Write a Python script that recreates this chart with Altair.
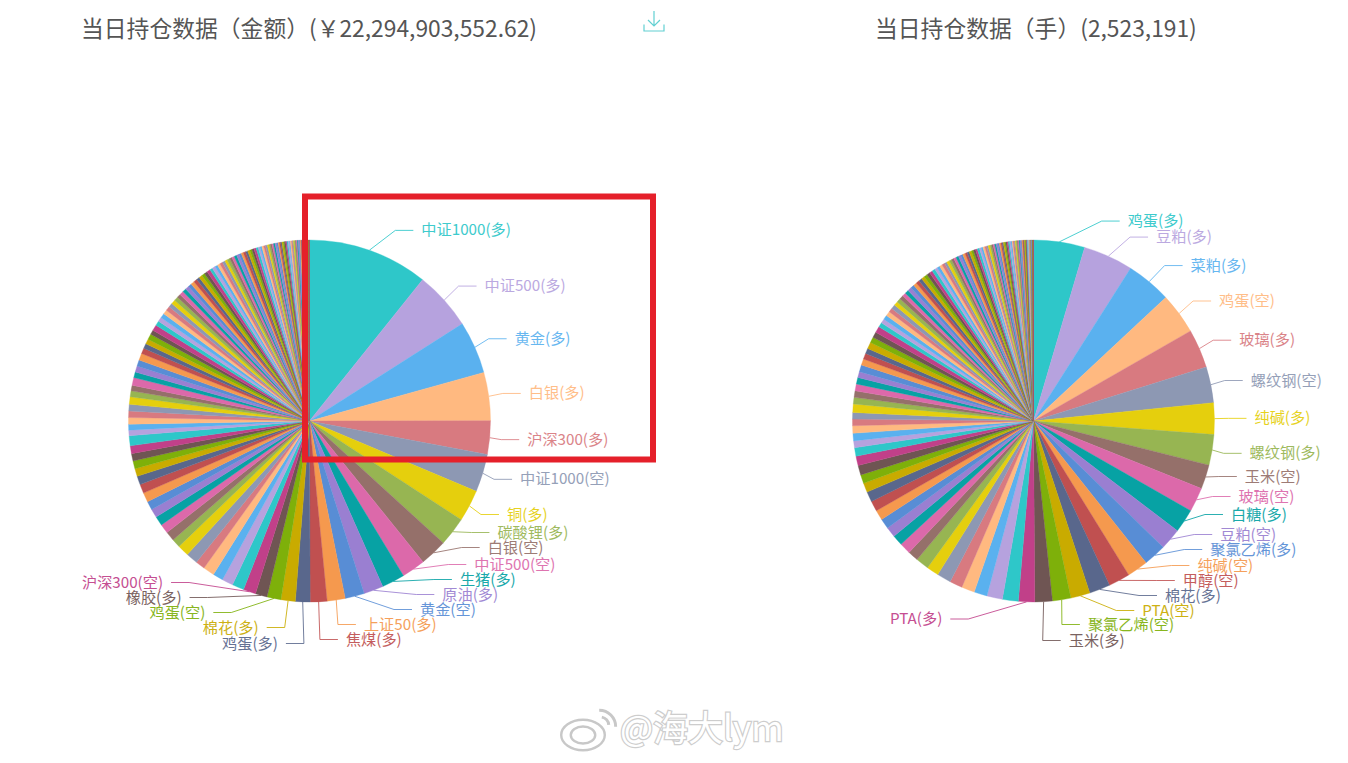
import math
import altair as alt
import pandas as pd

W, H = 1332, 747
CJK = "Noto Sans CJK SC"
PALETTE = ['#2ec7c9','#b6a2de','#5ab1ef','#ffb980','#d87a80','#8d98b3','#e5cf0d','#97b552','#95706a','#dc69aa',
           '#07a2a4','#9a7fd1','#588dd5','#f5994e','#c05050','#59678c','#c9ab00','#7eb00a','#6f5553','#c14089']

names_amount = ["中证1000(多)","中证500(多)","黄金(多)","白银(多)","沪深300(多)","中证1000(空)","铜(多)","碳酸锂(多)",
                "白银(空)","中证500(空)","生猪(多)","原油(多)","黄金(空)","上证50(多)","焦煤(多)","鸡蛋(多)",
                "棉花(多)","鸡蛋(空)","橡胶(多)","沪深300(空)"]
names_lots = ["鸡蛋(多)","豆粕(多)","菜粕(多)","鸡蛋(空)","玻璃(多)","螺纹钢(空)","纯碱(多)","螺纹钢(多)","玉米(空)",
              "玻璃(空)","白糖(多)","豆粕(空)","聚氯乙烯(多)","纯碱(空)","甲醇(空)","棉花(多)","PTA(空)",
              "聚氯乙烯(空)","玉米(多)","PTA(多)"]

# slice sizes (share of the circle, in degrees)
values_amount = [38.7,18.9,16.9,15.5,10.8,12.2,10.2,9.3,8.8,7.6,7.4,6.3,6.2,5.8,5.4,4.7,4.6,4.5,3.8,4.0,
                 3.8,3.6,3.3,3.6,3.0,3.8,3.7,2.8,3.0,3.0,3.0,2.8,2.8,3.0,2.9,2.8,2.5,2.5,2.4,2.5,
                 3.2,1.8,1.9,2.1,2.1,2.1,2.4,1.9,1.8,2.5,1.8,2.0,2.0,2.2,1.8,1.6,1.6,1.8,1.4,1.9,
                 1.5,1.4,1.5,1.4,1.4,1.3,1.4,1.3,1.2,1.3,1.2,1.2,1.1,1.2,1.1,1.0,1.1,1.0,1.0,1.1,
                 0.9,1.0,0.9,0.9,0.9,0.9,0.8,0.9,0.8,0.8,0.8,0.8,0.8,0.7,0.8,0.7,0.7,0.7,0.7,0.7,
                 0.7,0.6,0.6,0.6,0.6,0.6,0.5,0.5,0.5,0.5,0.5,0.5,0.5,0.4,0.4,0.4,0.4,0.4,0.4,0.4,
                 0.4,0.4,0.3,0.4,0.3,0.3,0.3,0.3,0.3,0.3,0.3,0.3,0.3,0.3,0.2,0.3,0.2,0.2,0.2,0.2,
                 0.1,0.1,0.1,0.1,0.1,0.1,0.1,0.1,0.05,0.05,0.05,0.05,0.05,0.05,0.05,0.05,0.05,0.05,0.05,0.05]
values_lots = [16.4,16.0,14.5,13.2,12.5,11.5,10.1,9.8,7.8,7.8,7.6,6.9,7.3,6.7,6.9,6.7,6.2,5.9,5.6,5.2,
               5.1,5.0,4.2,4.2,4.1,4.5,3.9,4.2,3.4,3.6,3.4,3.3,3.3,3.2,3.3,3.3,3.0,2.8,3.1,3.0,
               2.7,2.2,2.4,2.4,2.1,2.1,2.7,2.1,2.1,2.2,2.1,1.9,2.2,2.0,1.9,1.7,2.1,1.8,1.8,2.0,
               1.5,1.4,1.4,1.5,1.3,1.4,1.3,1.3,1.3,1.2,1.2,1.2,1.2,1.1,1.1,1.1,1.0,1.1,1.0,1.0,
               1.0,0.9,0.9,0.9,0.9,0.8,0.9,0.8,0.8,0.8,0.8,0.8,0.7,0.8,0.7,0.7,0.7,0.7,0.7,0.6,
               0.7,0.6,0.6,0.6,0.6,0.5,0.6,0.5,0.5,0.5,0.5,0.5,0.5,0.5,0.4,0.4,0.4,0.4,0.4,0.4,
               0.4,0.4,0.4,0.3,0.4,0.3,0.3,0.3,0.3,0.3,0.3,0.3,0.3,0.3,0.3,0.2,0.3,0.2,0.2,0.2,
               0.2,0.2,0.1,0.2,0.1,0.1,0.1,0.1,0.1,0.1,0.1,0.1,0.1,0.1,0.05,0.05,0.05,0.05,0.05,0.05]

titles = ["当日持仓数据（金额）(￥22,294,903,552.62)", "当日持仓数据（手）(2,523,191)"]
R = 181
CY = 413
CX_AMOUNT, CX_LOTS = 301.5, 1025.5


def layout(values, names, cx, right_gaps, right_bound, left_gaps, left_bound):
    """Leader-line layout: radial position, pushed into a stack at the bottom of each side."""
    total = sum(values)
    mids, acc = [], 0.0
    for v in values[:len(names)]:
        mids.append((acc + v / 2) / total * 2 * math.pi)
        acc += v
    right = [k for k, m in enumerate(mids) if m < math.pi]
    left = [k for k, m in enumerate(mids) if m >= math.pi]
    ys = {k: CY - (R + 21) * math.cos(mids[k]) for k in range(len(names))}
    for side, gaps, bound in ((right, right_gaps, right_bound), (left, left_gaps, left_bound)):
        stack = sorted(side, key=lambda k: abs(mids[k] - math.pi))
        y = bound
        for n, k in enumerate(stack):
            if n == 0:
                ys[k] = y
            elif n <= len(gaps):
                y -= gaps[n - 1]
                ys[k] = y
    lines, labels = [], []
    for k, name in enumerate(names):
        d = 1 if mids[k] < math.pi else -1
        dy = abs(ys[k] - CY)
        rad = 221 if ys[k] < CY else (218.5 if d > 0 else 218)
        if dy > 200:
            tx = 55 - 1.2 * (dy - 203)
        else:
            tx = math.sqrt(max(rad * rad - dy * dy, 0))
        text_x = cx + d * tx
        end_x = text_x - d * 8
        elbow_x = end_x - d * 18
        rim = (cx + R * math.sin(mids[k]), CY - R * math.cos(mids[k]))
        for o, (px, py) in enumerate((rim, (elbow_x, ys[k]), (end_x, ys[k]))):
            lines.append({"i": k + 1, "o": o, "x": px, "y": py, "pie": cx})
        labels.append({"i": k + 1, "x": text_x, "y": ys[k], "name": name, "side": "left" if d > 0 else "right"})
    return lines, labels


la1, lb1 = layout(values_amount, names_amount, CX_AMOUNT, [15, 15, 15, 15, 15, 17, 15, 18], 631.5, [16, 15, 15, 15], 635.5)
la2, lb2 = layout(values_lots, names_lots, CX_LOTS, [16, 14, 15, 15, 15, 16, 15, 20, 18, 20], 632.5, [], 611)

X = alt.X("x:Q", scale=alt.Scale(domain=[0, W], nice=False, zero=False), axis=None)
Y = alt.Y("y:Q", scale=alt.Scale(domain=[H, 0], nice=False, zero=False), axis=None)
COLOR = alt.Color("i:O", scale=alt.Scale(range=PALETTE), legend=None)
STROKE = alt.Stroke("i:O", scale=alt.Scale(range=PALETTE), legend=None)


def pie(values, cx):
    df = pd.DataFrame({"i": range(1, len(values) + 1), "v": values})
    return alt.Chart(df).mark_arc(outerRadius=R, strokeWidth=0.35).encode(
        theta=alt.Theta("v:Q", stack=True),
        color=COLOR,
        stroke=STROKE,
        order=alt.Order("i:Q"),
        x=alt.value(cx),
        y=alt.value(CY),
    )


line_df = pd.DataFrame(la1 + la2)
leader = alt.Chart(line_df).mark_line(strokeWidth=1, opacity=0.85, interpolate="linear").encode(
    x=X, y=Y, color=COLOR, detail="pie:N", order="o:Q")

label_layers = []
for side in ("left", "right"):
    d = pd.DataFrame([r for r in lb1 + lb2 if r["side"] == side])
    label_layers.append(alt.Chart(d).mark_text(align=side, baseline="middle", font=CJK, fontSize=15.2, opacity=0.92).encode(
        x=X, y=Y, text="name:N", color=COLOR))

title_df = pd.DataFrame({"x": [73, 867], "y": [21.5, 21.5], "t": titles})
title_layer = alt.Chart(title_df).mark_text(align="left", baseline="middle", font=CJK, fontSize=22.8, color="#555555").encode(
    x=X, y=Y, text="t:N")

box_df = pd.DataFrame({"x": [297], "x2": [645], "y": [188.5], "y2": [451.5]})
box = alt.Chart(box_df).mark_rect(fillOpacity=0, stroke="#e5202a", strokeWidth=6).encode(
    x=X, x2="x2:Q", y=Y, y2="y2:Q")

icon_df = pd.DataFrame({"x": [646], "y": [13]})
icon = alt.Chart(icon_df).mark_point(
    shape="M0,-1 L0,0.45 M-0.6,-0.1 L0,0.5 L0.6,-0.1 M-1,0.35 L-1,1 L1,1 L1,0.35",
    size=400, filled=False, stroke="#62d0d2", strokeWidth=1.2, opacity=1).encode(x=X, y=Y)

# watermark
wm_text = pd.DataFrame({"x": [612], "y": [722], "t": ["@海大lym"]})
wm_halo = alt.Chart(wm_text).mark_text(align="left", baseline="middle", font=CJK, fontSize=35, fill="#ffffff",
                                       stroke="#c8c8c8", strokeWidth=2.4, opacity=0.9).encode(x=X, y=Y, text="t:N")
wm_top = alt.Chart(wm_text).mark_text(align="left", baseline="middle", font=CJK, fontSize=35, fill="#ffffff").encode(x=X, y=Y, text="t:N")
wm_pt = pd.DataFrame({"x": [575], "y": [727]})
wm_body = alt.Chart(wm_pt).mark_point(shape="M-1,0 A1,0.7 0 1,1 1,0 A1,0.7 0 1,1 -1,0 Z", size=1900, fill="#ffffff",
                                      stroke="#c8c8c8", strokeWidth=2.4, opacity=1).encode(x=X, y=Y)
wm_eye = alt.Chart(wm_pt).mark_point(shape="M-1,0 A1,0.7 0 1,1 1,0 A1,0.7 0 1,1 -1,0 Z", size=600, fill="#ffffff",
                                     stroke="#c8c8c8", strokeWidth=2.4, opacity=1).encode(x=X, y=Y)
wm_arc_pt = pd.DataFrame({"x": [599], "y": [710]})
wm_arcs = alt.Chart(wm_arc_pt).mark_point(shape="M-0.9,-0.9 A1.9,1.9 0 0 1 1,1 M-0.6,-0.1 A1,1 0 0 1 0.2,0.8",
                                          size=300, filled=False, stroke="#c8c8c8", strokeWidth=3, opacity=1).encode(x=X, y=Y)

chart = alt.layer(
    pie(values_amount, CX_AMOUNT), pie(values_lots, CX_LOTS),
    leader, *label_layers, title_layer, box, icon,
    wm_body, wm_eye, wm_arcs, wm_halo, wm_top,
).resolve_scale(theta="independent").properties(width=W, height=H, padding=0).configure_view(stroke=None)

chart.save("out.html", embed_options={"renderer": "svg", "actions": False})
